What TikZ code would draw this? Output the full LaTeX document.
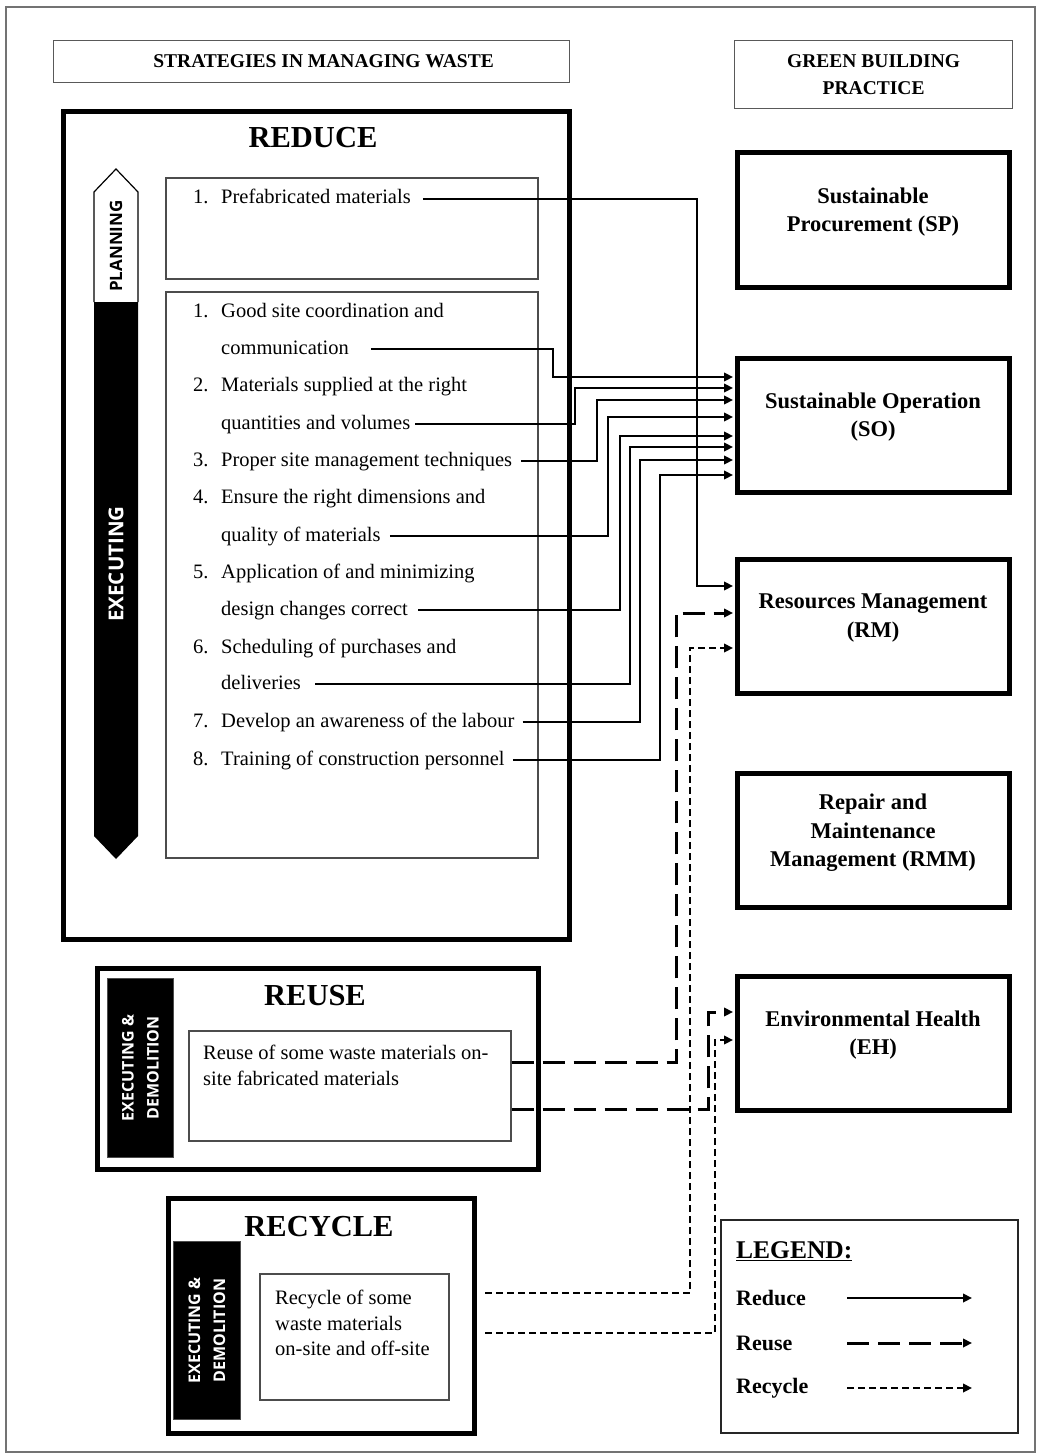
\documentclass[tikz,border=0pt]{standalone}
\usepackage{fontspec}
\setmainfont{Liberation Serif}
\newfontfamily\sidefont{Open Sans}
\usetikzlibrary{arrows.meta,calc}
\begin{document}
\begin{tikzpicture}[x=1pt,y=-1pt,
  thickbox/.style={draw=black,line width=5pt,inner sep=0pt,anchor=north west},
  innerbox/.style={draw=black!70,line width=1.6pt,inner sep=0pt,anchor=north west},
  hdrbox/.style={draw=black!65,line width=1.2pt,inner sep=0pt,anchor=north west},
  sidebar/.style={fill=black,draw=black!70,line width=0.8pt,inner sep=0pt,anchor=north west},
  gbox/.style={draw=black,line width=5pt,inner sep=0pt,minimum width=272pt,minimum height=134pt},
  gtitle/.style={align=center,font=\fontsize{22.5}{28.5}\selectfont\bfseries,inner sep=0pt},
  bigtitle/.style={font=\fontsize{30.5}{34}\selectfont\bfseries,inner sep=0pt},
  hdrtext/.style={align=center,font=\fontsize{19.5}{27}\selectfont\bfseries,inner sep=0pt},
  itm/.style={anchor=west,inner sep=0pt,text height=14pt,text depth=4pt,font=\fontsize{20.5}{25}\selectfont},
  sidetext/.style={rotate=90,align=center,inner sep=0pt,font=\sidefont\fontsize{16}{25}\selectfont\bfseries},
  legtext/.style={anchor=west,inner sep=0pt,font=\fontsize{22}{25}\selectfont\bfseries},
  tip/.style={-{Triangle[length=9pt,width=8.5pt]}},
  reduceline/.style={tip,line width=2.7pt,shorten >=1.5pt},
  reuseline/.style={tip,line width=3pt,dash pattern=on 22pt off 9pt,shorten >=1.5pt},
  recycleline/.style={tip,line width=2.7pt,dash pattern=on 7pt off 4pt,shorten >=1.5pt}
]
\useasboundingbox (0,0) rectangle (1039,1455);
\fill[white] (0,0) rectangle (1039,1455);
\draw[black!55,line width=1.5pt] (6,7) rectangle (1035,1452);

% headers
\node[hdrbox,minimum width=516pt,minimum height=42pt] (hleft) at (53,40) {};
\node[hdrtext] (hleftt) at ([xshift=12pt]hleft.center) {STRATEGIES IN MANAGING WASTE};
\node[hdrbox,minimum width=278pt,minimum height=68pt] (hright) at (734,40) {};
\node[hdrtext] (hrightt) at (hright.center) {GREEN BUILDING\\PRACTICE};

% REDUCE
\node[thickbox,minimum width=506pt,minimum height=828pt] (redbox) at (61,109) {};
\node[bigtitle] (redt) at (313,138) {REDUCE};
\node[innerbox,minimum width=372pt,minimum height=101pt] (planbox) at (165,177) {};
\node[innerbox,minimum width=372pt,minimum height=566pt] (execbox) at (165,291) {};

% planning / executing arrow
\fill[black] (94,302) -- (138,302) -- (138,836) -- (116,859) -- (94,836) -- cycle;
\draw[black,line width=1.2pt] (94,302) -- (94,192) -- (116,169) -- (138,192) -- (138,302);
\node[sidetext,font=\sidefont\fontsize{17}{25}\selectfont\bfseries] (plant) at (116,246) {PLANNING};
\node[sidetext,text=white,font=\sidefont\fontsize{20.5}{25}\selectfont\bfseries] (exect) at (116,564) {EXECUTING};

% items
\node[itm] (pfn) at (193,199) {1.};
\node[itm] (pf) at (221,199) {Prefabricated materials};
\node[itm] (n1) at (193,312) {1.};
\node[itm] (e1a) at (221,312) {Good site coordination and};
\node[itm] (e1) at (221,349) {communication};
\node[itm] (n2) at (193,386) {2.};
\node[itm] (e2a) at (221,386) {Materials supplied at the right};
\node[itm] (e2) at (221,424) {quantities and volumes};
\node[itm] (n3) at (193,461) {3.};
\node[itm] (e3) at (221,461) {Proper site management techniques};
\node[itm] (n4) at (193,498) {4.};
\node[itm] (e4a) at (221,498) {Ensure the right dimensions and};
\node[itm] (e4) at (221,536) {quality of materials};
\node[itm] (n5) at (193,573) {5.};
\node[itm] (e5a) at (221,573) {Application of and minimizing};
\node[itm] (e5) at (221,610) {design changes correct};
\node[itm] (n6) at (193,648) {6.};
\node[itm] (e6a) at (221,648) {Scheduling of purchases and};
\node[itm] (e6) at (221,684) {deliveries};
\node[itm] (n7) at (193,722) {7.};
\node[itm] (e7) at (221,722) {Develop an awareness of the labour};
\node[itm] (n8) at (193,760) {8.};
\node[itm] (e8) at (221,760) {Training of construction personnel};

% green building boxes
\node[gbox] (sp) at (873,220) {};
\node[gtitle] (spt) at ([yshift=8pt]sp.center) {Sustainable\\Procurement (SP)};
\node[gbox] (so) at (873,425) {};
\node[gtitle] (sot) at ([yshift=8pt]so.center) {Sustainable Operation\\(SO)};
\node[gbox] (rm) at (873,626) {};
\node[gtitle] (rmt) at ([yshift=8pt]rm.center) {Resources Management\\(RM)};
\node[gbox] (rmm) at (873,840) {};
\node[gtitle] (rmmt) at ([yshift=7pt]rmm.center) {Repair and\\Maintenance\\Management (RMM)};
\node[gbox] (eh) at (873,1043) {};
\node[gtitle] (eht) at ([yshift=8pt]eh.center) {Environmental Health\\(EH)};

% REUSE
\node[thickbox,minimum width=441pt,minimum height=201pt] (reusebox) at (95,966) {};
\node[sidebar,minimum width=66pt,minimum height=179pt] (rusb) at (107,978) {};
\node[sidetext,text=white] (rusbt) at (rusb.center) {EXECUTING \&\\DEMOLITION};
\node[bigtitle] (reuset) at (315,996) {REUSE};
\node[innerbox,minimum width=322pt,minimum height=110pt] (ruin) at (188,1030) {};
\node[anchor=north west,inner sep=0pt,align=left,font=\fontsize{20.5}{26}\selectfont] (ruintext) at (203,1045) {Reuse of some waste materials on-\\site fabricated materials};

% RECYCLE
\node[thickbox,minimum width=306pt,minimum height=235pt] (rcbox) at (166,1196) {};
\node[sidebar,minimum width=67pt,minimum height=178pt] (rcsb) at (173,1241) {};
\node[sidetext,text=white] (rcsbt) at (rcsb.center) {EXECUTING \&\\DEMOLITION};
\node[bigtitle] (recyt) at (319,1227) {RECYCLE};
\node[innerbox,minimum width=189pt,minimum height=126pt] (rcin) at (259,1273) {};
\node[anchor=north west,inner sep=0pt,align=left,font=\fontsize{20.5}{25.5}\selectfont] (rcintext) at (275,1290) {Recycle of some\\waste materials\\on-site and off-site};

% LEGEND
\node[anchor=north west,draw=black!85,line width=1.5pt,inner sep=0pt,minimum width=297pt,minimum height=213pt] (legbox) at (720,1219) {};
\node[anchor=west,inner sep=0pt,font=\fontsize{25.5}{28}\selectfont\bfseries] (legt) at (736,1251) {\underline{LEGEND:}};
\node[legtext] (lred) at (736,1298) {Reduce};
\node[legtext] (lreu) at (736,1343) {Reuse};
\node[legtext] (lrec) at (736,1388) {Recycle};
\coordinate (lreda) at (847,1298); \coordinate (lredb) at (972,1298);
\coordinate (lreua) at (847,1343); \coordinate (lreub) at (972,1343);
\coordinate (lreca) at (847,1388); \coordinate (lrecb) at (972,1388);
\draw[tip,line width=2.7pt] (lreda) -- (lredb);
\draw[tip,line width=3pt,dash pattern=on 22pt off 9pt] (lreua) -- (lreub);
\draw[tip,line width=2.7pt,dash pattern=on 7pt off 4pt] (lreca) -- (lrecb);

% reduce connectors
\draw[reduceline] ([xshift=12pt]pf.east) -| (697,586) -- (rm.west |- 0,586);
\draw[reduceline] ([xshift=22pt]e1.east) -| (553,377) -- (so.west |- 0,377);
\draw[reduceline] ([xshift=5pt]e2.east) -| (575,388) -- (so.west |- 0,388);
\draw[reduceline] ([xshift=9pt]e3.east) -| (597,400) -- (so.west |- 0,400);
\draw[reduceline] ([xshift=9pt]e4.east) -| (608,417) -- (so.west |- 0,417);
\draw[reduceline] ([xshift=10pt]e5.east) -| (620,436) -- (so.west |- 0,436);
\draw[reduceline] ([xshift=14pt]e6.east) -| (630,447) -- (so.west |- 0,447);
\draw[reduceline] ([xshift=8pt]e7.east) -| (640,460) -- (so.west |- 0,460);
\draw[reduceline] ([xshift=8pt]e8.east) -| (660,475) -- (so.west |- 0,475);

% reuse connectors
\draw[reuseline] (ruin.east |- 0,1062) -| (676,613) -- (rm.west |- 0,613);
\draw[reuseline] (ruin.east |- 0,1109) -| (708,1012) -- (eh.west |- 0,1012);

% recycle connectors
\draw[recycleline] ($(rcbox.east |- 0,1293)+(8,0)$) -| (690,648) -- (rm.west |- 0,648);
\draw[recycleline] ($(rcbox.east |- 0,1333)+(8,0)$) -| (715,1040) -- (eh.west |- 0,1040);
\end{tikzpicture}
\end{document}
